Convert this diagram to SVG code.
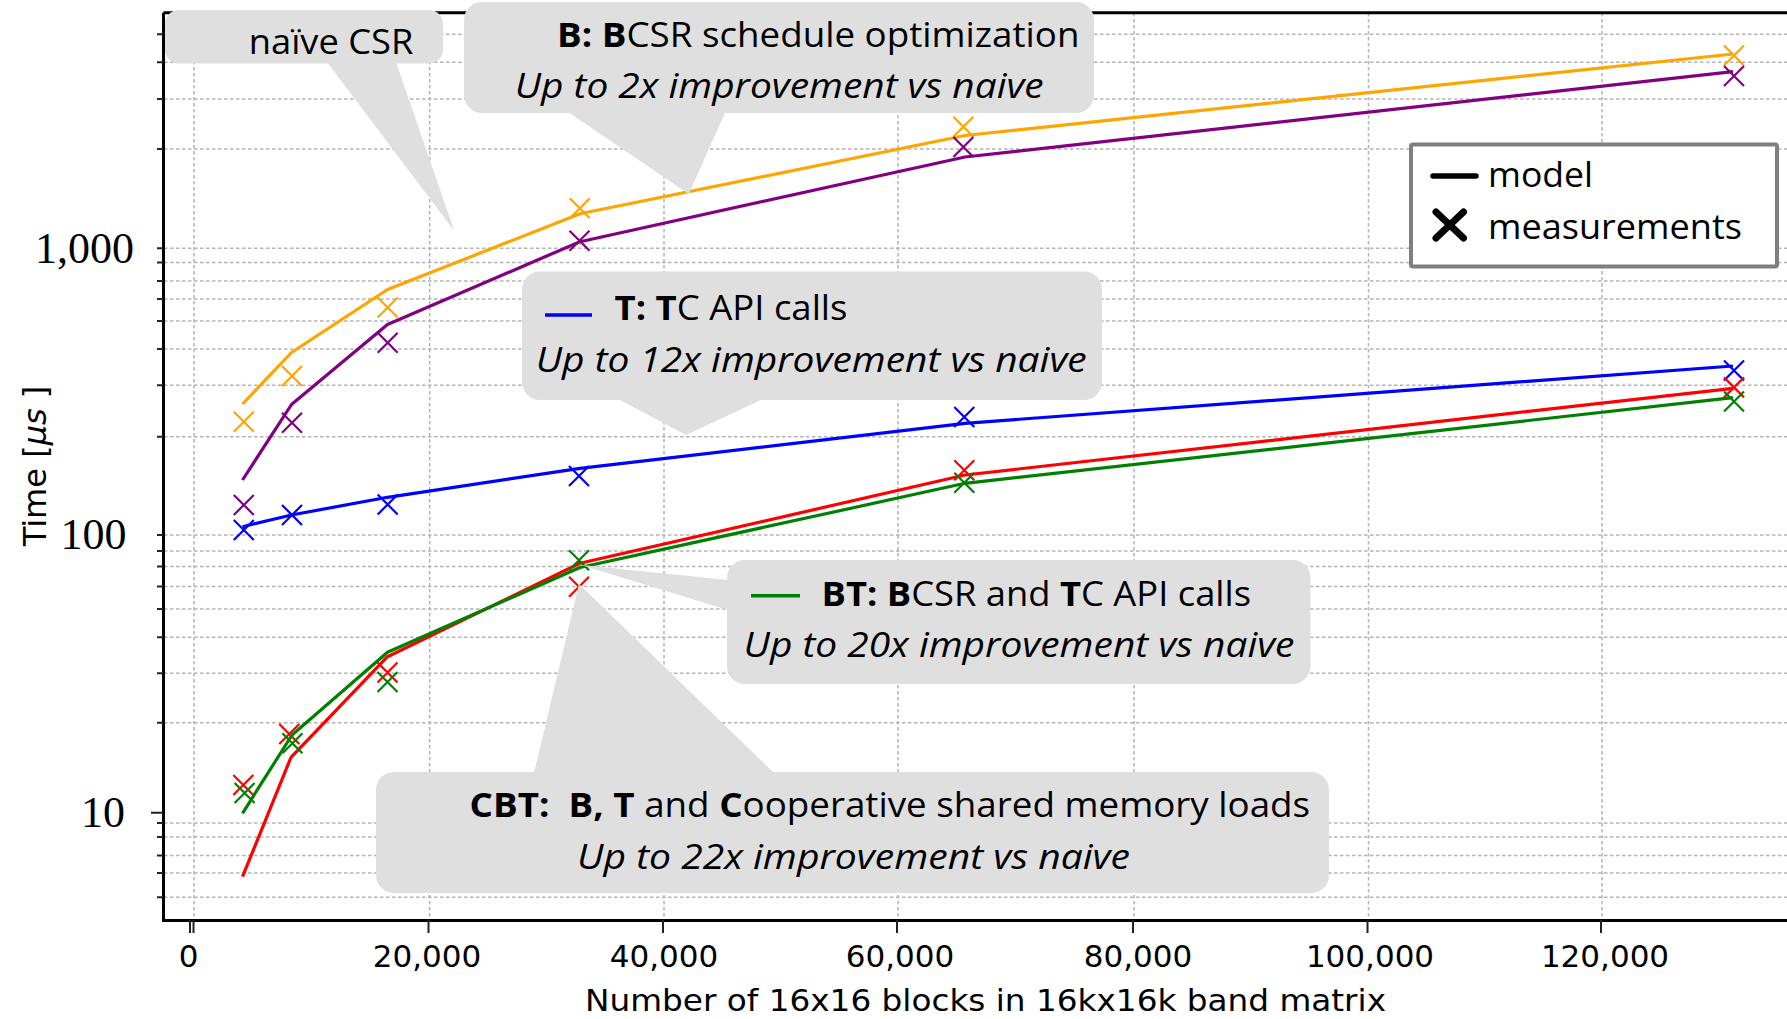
<svg xmlns="http://www.w3.org/2000/svg" width="1787" height="1019" viewBox="0 0 1787 1019">
<defs>
<style>
.grid{stroke:#b4b4b4;stroke-width:1.5;stroke-dasharray:3.5 2.5;fill:none}
.spine{stroke:#000;stroke-width:3;fill:none}
.tick{stroke:#222;stroke-width:2}
.model{fill:none;stroke-width:3.2;stroke-linejoin:round}
.mk{fill:none;stroke-width:2.2}
.call{fill:#dfdfdf}
.ct{font-family:"Open Sans","Noto Sans","Liberation Sans",sans-serif;font-size:34px;fill:#000;white-space:pre}
.b{font-weight:bold}
.it{font-style:italic}
.ax{font-family:"DejaVu Sans",sans-serif;fill:#000}
.ser{font-family:"Liberation Serif",serif;font-size:44px;fill:#000}
</style>
<path id="xm" d="M-10,-10L10,10M-10,10L10,-10"/>
</defs>
<rect width="1787" height="1019" fill="#fff"/>

<g id="grid" class="grid">
<path d="M164,34.3H1787M164,62.3H1787M164,99H1787M164,149H1787M164,248.3H1787M164,262.5H1787M164,281H1787M164,299H1787M164,321H1787M164,349H1787M164,385.3H1787M164,436.7H1787M164,535H1787M164,551H1787M164,566.5H1787M164,586.5H1787M164,609H1787M164,637.3H1787M164,673.3H1787M164,722.7H1787M164,823H1787M164,837H1787M164,855.5H1787M164,873H1787M164,897.3H1787"/>
<path d="M194,13V920M429.7,13V920M664,13V920M898,13V920M1134,13V920M1368.5,13V920M1602,13V920"/>
</g>

<g id="axes">
<path class="spine" d="M163.5,12.7V920.5H1787M163.5,12.7H1787"/>
<path class="tick" d="M157,34.3h6M157,62.3h6M157,99h6M157,149h6M157,248.3h6M157,262.5h6M157,281h6M157,299h6M157,321h6M157,349h6M157,385.3h6M157,436.7h6M157,535h6M157,551h6M157,566.5h6M157,586.5h6M157,609h6M157,637.3h6M157,673.3h6M157,722.7h6M157,823h6M157,837h6M157,855.5h6M157,873h6M157,897.3h6"/>
<path class="tick" stroke-width="2.5" d="M151,812.7h12M190,920v13M193.5,920v13M428.5,920v13M663,920v13M897,920v13M1133,920v13M1367.5,920v13M1601,920v13"/>
<g class="ax" font-size="31" text-anchor="middle">
<text x="188.5" y="967">0</text>
<text x="427" y="967">20,000</text>
<text x="664" y="967">40,000</text>
<text x="900" y="967">60,000</text>
<text x="1138" y="967">80,000</text>
<text x="1370" y="967">100,000</text>
<text x="1605" y="967">120,000</text>
</g>
<g class="ser" text-anchor="end">
<text x="134" y="263">1,000</text>
<text x="126.5" y="548.5">100</text>
<text x="125" y="826.7">10</text>
</g>
<text class="ax" font-size="30" x="585" y="1011" textLength="801" lengthAdjust="spacingAndGlyphs">Number of 16x16 blocks in 16kx16k band matrix</text>
<text class="ax" font-size="32" text-anchor="middle" transform="translate(46,466) rotate(-90)">Time [<tspan font-style="italic">μs</tspan> ]</text>
</g>

<g id="series">
<g id="naive-orange" stroke="#FFA500">
<polyline class="model" points="242.5,404 291.5,352.5 387.5,289.5 580,213.8 965,135.5 1733,54"/>
<g class="mk"><use href="#xm" x="243.8" y="421.7"/><use href="#xm" x="292" y="376"/><use href="#xm" x="387.7" y="307.5"/><use href="#xm" x="579.8" y="208.3"/><use href="#xm" x="963.4" y="126.7"/><use href="#xm" x="1734" y="55.5"/></g>
</g>
<g id="b-purple" stroke="#800080">
<polyline class="model" points="242.5,480 291.5,404.5 387.5,324.5 580,241.7 965,157 1733,71.7"/>
<g class="mk"><use href="#xm" x="243.8" y="505"/><use href="#xm" x="292" y="422.7"/><use href="#xm" x="387.7" y="342.7"/><use href="#xm" x="579.5" y="240.7"/><use href="#xm" x="963.4" y="147"/><use href="#xm" x="1734" y="76"/></g>
</g>
<g id="t-blue" stroke="#0000FF">
<polyline class="model" points="242.5,526.7 291.5,515 387.5,497.3 580,468.3 965,423.3 1733,366"/>
<g class="mk"><use href="#xm" x="243.8" y="530"/><use href="#xm" x="292" y="515"/><use href="#xm" x="387.7" y="504.5"/><use href="#xm" x="579" y="476"/><use href="#xm" x="964.3" y="417"/><use href="#xm" x="1734" y="370.5"/></g>
</g>
<g id="cbt-red" stroke="#FF0000">
<polyline class="model" points="242.5,876.7 291,757.3 387.5,656.7 580,563.3 965,475 1733,388.3"/>
<g class="mk"><use href="#xm" x="243.3" y="785"/><use href="#xm" x="289.3" y="734"/><use href="#xm" x="387.5" y="672.5"/><use href="#xm" x="579" y="586.7"/><use href="#xm" x="964.3" y="470.3"/><use href="#xm" x="1734" y="387.4"/></g>
</g>
<g id="bt-green" stroke="#008000">
<polyline class="model" points="242.5,813.3 292,735 387.5,652.2 580,567.5 965,483.3 1733,397.7"/>
<g class="mk"><use href="#xm" x="244.6" y="793"/><use href="#xm" x="292.4" y="743.3"/><use href="#xm" x="387.5" y="682"/><use href="#xm" x="579" y="560.3"/><use href="#xm" x="964.3" y="482.7"/><use href="#xm" x="1734" y="401.5"/></g>
</g>
</g>

<g id="callout-naive" class="call">
<rect x="165" y="10" width="278" height="53.5" rx="14"/>
<polygon points="327,62 396,62 454.3,231"/>
<text class="ct" x="248.8" y="53.5" textLength="164.5" lengthAdjust="spacingAndGlyphs">naïve CSR</text>
</g>

<g id="callout-b" class="call">
<rect x="464" y="2" width="630" height="111" rx="18"/>
<polygon points="568,112 725.4,112 688.8,194"/>
<text class="ct" x="557" y="47" textLength="522.5" lengthAdjust="spacingAndGlyphs"><tspan class="b">B: B</tspan>CSR schedule optimization</text>
<text class="ct it" x="514.7" y="98" textLength="529" lengthAdjust="spacingAndGlyphs">Up to 2x improvement vs naive</text>
</g>

<g id="callout-t" class="call">
<rect x="522" y="271.5" width="580" height="128.5" rx="18"/>
<polygon points="618,399 763,399 686,435"/>
<line x1="545" y1="315" x2="592" y2="315" stroke="#0000FF" stroke-width="3.5"/>
<text class="ct" x="614.5" y="320" textLength="233" lengthAdjust="spacingAndGlyphs"><tspan class="b">T: T</tspan>C API calls</text>
<text class="ct it" x="535.7" y="371.5" textLength="551" lengthAdjust="spacingAndGlyphs">Up to 12x improvement vs naive</text>
</g>

<g id="callout-bt" class="call">
<rect x="727" y="560" width="583.5" height="124" rx="18"/>
<polygon points="728,580 728,610 581,565"/>
<line x1="751" y1="595.7" x2="800" y2="595.7" stroke="#008000" stroke-width="3.5"/>
<text class="ct" x="821.5" y="605.7" textLength="429.5" lengthAdjust="spacingAndGlyphs"><tspan class="b">BT: B</tspan>CSR and <tspan class="b">T</tspan>C API calls</text>
<text class="ct it" x="743.5" y="657.3" textLength="551" lengthAdjust="spacingAndGlyphs">Up to 20x improvement vs naive</text>
</g>

<g id="callout-cbt" class="call">
<rect x="376" y="772" width="953" height="121" rx="18"/>
<polygon points="579,584 534,773 774,773"/>
<text class="ct" x="469.6" y="817" textLength="840.5" lengthAdjust="spacingAndGlyphs"><tspan class="b">CBT:  B, T</tspan> and <tspan class="b">C</tspan>ooperative shared memory loads</text>
<text class="ct it" x="577" y="869" textLength="553" lengthAdjust="spacingAndGlyphs">Up to 22x improvement vs naive</text>
</g>

<g id="legend">
<rect x="1411" y="144.5" width="366" height="122" fill="#fff" stroke="#7f7f7f" stroke-width="4" rx="2"/>
<line x1="1433" y1="176" x2="1476" y2="176" stroke="#000" stroke-width="5.5" stroke-linecap="round"/>
<path d="M1436,212L1463.5,238M1463.5,212L1436,238" stroke="#000" stroke-width="7" stroke-linecap="round" fill="none"/>
<text class="ct" x="1488" y="187" textLength="105" lengthAdjust="spacingAndGlyphs">model</text>
<text class="ct" x="1488" y="238.5" textLength="254" lengthAdjust="spacingAndGlyphs">measurements</text>
</g>
</svg>
